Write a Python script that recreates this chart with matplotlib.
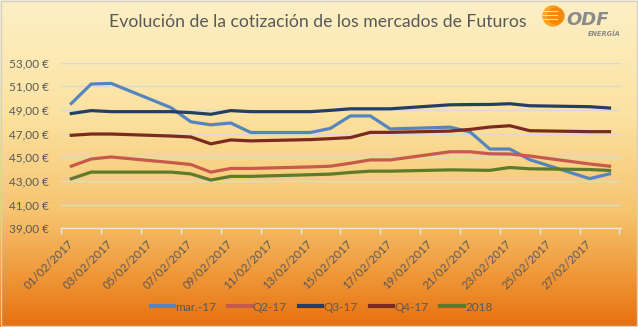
import numpy as np
import matplotlib.pyplot as plt
from matplotlib.patches import Circle, Rectangle
from matplotlib.ticker import FuncFormatter

# trading days of February 2017 (day of month)
days = [1, 2, 3, 6, 7, 8, 9, 10, 13, 14, 15, 16, 17, 20, 21, 22, 23, 24, 27, 28]

mar17 = [49.55, 51.2, 51.25, 49.2, 48.0, 47.75, 47.9, 47.1, 47.1, 47.45,
         48.5, 48.5, 47.4, 47.55, 47.15, 45.7, 45.7, 44.8, 43.2, 43.6]
q2_17 = [44.25, 44.86, 45.03, 44.56, 44.39, 43.75, 44.06, 44.06, 44.19, 44.25,
         44.5, 44.78, 44.78, 45.47, 45.47, 45.3, 45.28, 45.11, 44.44, 44.25]
q3_17 = [48.7, 48.95, 48.86, 48.86, 48.78, 48.64, 48.95, 48.86, 48.86, 48.97,
         49.1, 49.1, 49.1, 49.44, 49.46, 49.47, 49.53, 49.36, 49.28, 49.17]
q4_17 = [46.86, 46.97, 46.97, 46.8, 46.72, 46.14, 46.47, 46.39, 46.5, 46.58,
         46.67, 47.11, 47.11, 47.22, 47.36, 47.56, 47.67, 47.25, 47.17, 47.17]
y2018 = [43.19, 43.75, 43.75, 43.75, 43.6, 43.08, 43.39, 43.39, 43.53, 43.58,
         43.72, 43.83, 43.83, 43.94, 43.92, 43.9, 44.14, 44.03, 43.97, 43.89]

label_days = [1, 3, 5, 7, 9, 11, 13, 15, 17, 19, 21, 23, 25, 27]
tick_labels = ['01/02/2017', '03/02/2017', '05/02/2017', '07/02/2017', '09/02/2017',
               '11/02/2017', '13/02/2017', '15/02/2017', '17/02/2017', '19/02/2017',
               '21/02/2017', '23/02/2017', '25/02/2017', '27/02/2017']

series = [
    ('mar.-17', mar17, '#5585BE'),
    ('Q2-17', q2_17, '#C65A4B'),
    ('Q3-17', q3_17, '#243F63'),
    ('Q4-17', q4_17, '#7A2A1E'),
    ('2018', y2018, '#5E7A2A'),
]

plt.rcParams['font.family'] = ['Lato', 'DejaVu Sans']
grey = '#595959'

fig = plt.figure(figsize=(6.38, 3.27), dpi=100)

# background gradient (cream at top, orange at bottom)
bg = fig.add_axes([0, 0, 1, 1], zorder=-5)
stops = np.array([[253, 240, 198], [251, 226, 160], [246, 196, 110],
                  [239, 150, 55], [231, 112, 14]]) / 255.0
pos = np.array([0.0, 0.35, 0.65, 0.85, 1.0])
t = np.linspace(0, 1, 327)
grad = np.stack([np.interp(t, pos, stops[:, k]) for k in range(3)], axis=1)
bg.imshow(grad[:, None, :], aspect='auto', extent=[0, 1, 0, 1])
bg.add_patch(Rectangle((0.001, 0.002), 0.997, 0.995, fill=False,
                       edgecolor='#D0D0D0', lw=1))
bg.set_xlim(0, 1)
bg.set_ylim(0, 1)
bg.axis('off')

ax = fig.add_axes([0.0961, 0.3018, 0.878, 0.5065])
ax.patch.set_alpha(0)
for name, vals, col in series:
    ax.plot(days, vals, color=col, lw=2.3, label=name, solid_joinstyle='round')

ax.set_xlim(0.5, 28.6)
ax.set_ylim(39, 53)
ax.set_yticks(np.arange(39, 54, 2))
ax.yaxis.set_major_formatter(FuncFormatter(lambda v, p: f'{v:.2f} €'.replace('.', ',')))
ax.grid(axis='y', color='#D9D9D9', lw=1)
ax.set_axisbelow(True)
for s in ['top', 'right', 'left']:
    ax.spines[s].set_visible(False)
ax.spines['bottom'].set_color('#E6E6E6')
ax.spines['bottom'].set_linewidth(1)

ax.set_xticks(label_days)
ax.set_xticklabels(tick_labels, rotation=45, ha='right', va='center',
                   rotation_mode='anchor')
ax.set_xticks(np.arange(0.5, 29, 2), minor=True)
ax.tick_params(axis='x', which='major', length=0, pad=10, labelsize=8.3, labelcolor=grey)
ax.tick_params(axis='x', which='minor', length=4, color='#E6E6E6', width=1)
ax.tick_params(axis='y', length=0, pad=9, labelsize=8.5, labelcolor=grey)

fig.text(0.498, 0.932, 'Evolución de la cotización de los mercados de Futuros',
         ha='center', va='center', fontsize=12.7, color=grey)

# ODF Energía logo
lg = fig.add_axes([0, 0, 1, 1], zorder=5)
lg.set_xlim(0, 638)
lg.set_ylim(327, 0)
lg.axis('off')
lg.add_patch(Circle((553, 16), 10, color='#F5A425'))
lg.add_patch(Circle((556, 16), 8, color='#F08A10'))
for yy in [11, 15, 19]:
    lg.plot([543, 557], [yy, yy], color='#FCE0A8', lw=0.8)
lg.text(566, 20, 'ODF', fontsize=13, fontweight='bold', style='italic',
        color='#8A8A8A', va='center', ha='left', family=['DejaVu Sans'])
lg.text(588, 34, 'ENERGÍA', fontsize=4.8, fontweight='bold', style='italic',
        color='#8A8A8A', va='center', ha='left', family=['DejaVu Sans'])

leg = ax.legend(loc='center', bbox_to_anchor=(0.504, 0.061),
                bbox_transform=fig.transFigure, ncol=5, frameon=False,
                fontsize=8.5, handlelength=2.0, columnspacing=1.0, handletextpad=0.1)
for txt in leg.get_texts():
    txt.set_color(grey)
for h in leg.get_lines():
    h.set_linewidth(3)

fig.savefig('out.png', dpi=100)
